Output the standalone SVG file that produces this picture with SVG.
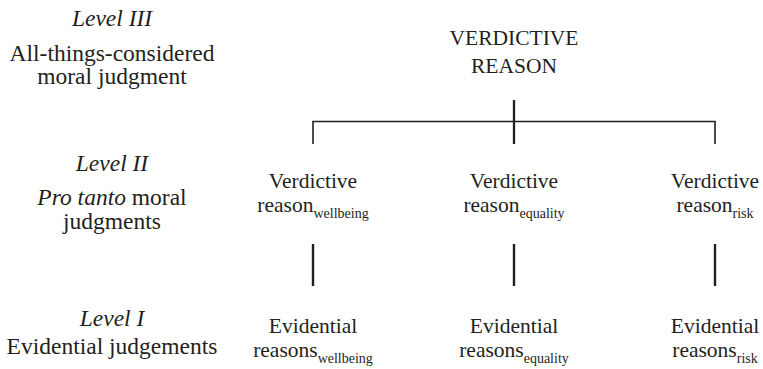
<svg xmlns="http://www.w3.org/2000/svg" width="763" height="369" viewBox="0 0 763 369">
<style>
text{font-family:"Liberation Serif","Times New Roman",serif;fill:#231f20;text-anchor:middle}
.lv{font-size:23.5px}
.it{font-style:italic}
.nd{font-size:21.5px}
.sb{font-size:14px}
.ln{stroke:#231f20;fill:none}
</style>
<rect width="763" height="369" fill="#fff"/>
<g id="level-3">
<text class="lv it" x="112" y="26">Level III</text>
<text class="lv" x="112" y="61">All-things-considered<tspan x="112" dy="23">moral judgment</tspan></text>
</g>
<g id="level-2">
<text class="lv it" x="112" y="171">Level II</text>
<text class="lv" x="112" y="205"><tspan font-style="italic">Pro tanto</tspan> moral<tspan x="112" dy="24">judgments</tspan></text>
</g>
<g id="level-1">
<text class="lv it" x="112" y="326">Level I</text>
<text class="lv" x="112" y="354">Evidential judgements</text>
</g>
<g id="verdictive-reason">
<text class="nd" x="514" y="45">VERDICTIVE<tspan x="514" dy="28">REASON</tspan></text>
</g>
<g id="vr-wellbeing">
<text class="nd" x="313" y="188">Verdictive<tspan x="313" dy="24">reason</tspan><tspan class="sb" dy="6">wellbeing</tspan></text>
</g>
<g id="vr-equality">
<text class="nd" x="514" y="188">Verdictive<tspan x="514" dy="24">reason</tspan><tspan class="sb" dy="6">equality</tspan></text>
</g>
<g id="vr-risk">
<text class="nd" x="715" y="188">Verdictive<tspan x="715" dy="24">reason</tspan><tspan class="sb" dy="6">risk</tspan></text>
</g>
<g id="er-wellbeing">
<text class="nd" x="313" y="333">Evidential<tspan x="313" dy="24">reasons</tspan><tspan class="sb" dy="6">wellbeing</tspan></text>
</g>
<g id="er-equality">
<text class="nd" x="514" y="333">Evidential<tspan x="514" dy="24">reasons</tspan><tspan class="sb" dy="6">equality</tspan></text>
</g>
<g id="er-risk">
<text class="nd" x="715" y="333">Evidential<tspan x="715" dy="24">reasons</tspan><tspan class="sb" dy="6">risk</tspan></text>
</g>
<g id="connectors" class="ln">
<line x1="514" y1="100" x2="514" y2="144" stroke-width="2.3"/>
<polyline points="313,144 313,121.5 715,121.5 715,144" stroke-width="1.6"/>
<line x1="313" y1="244" x2="313" y2="286" stroke-width="2.4"/>
<line x1="514" y1="244" x2="514" y2="286" stroke-width="2.4"/>
<line x1="715" y1="244" x2="715" y2="286" stroke-width="2.4"/>
</g>
</svg>
